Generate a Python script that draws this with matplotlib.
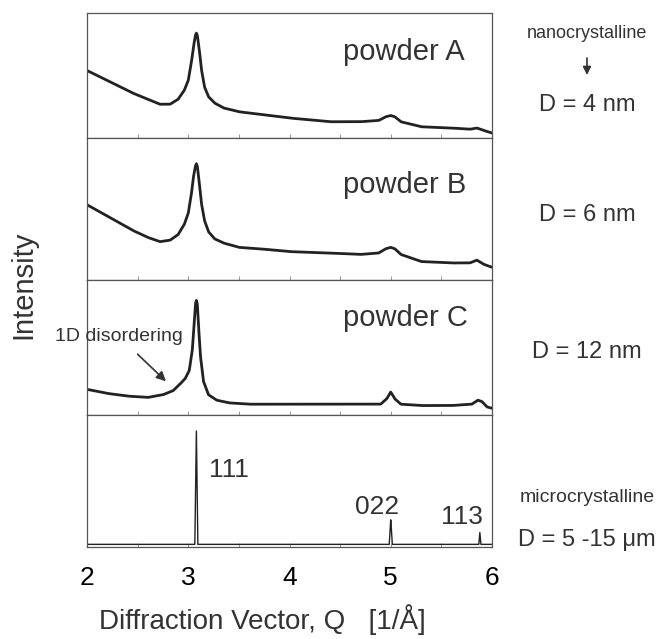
import numpy as np
import matplotlib.pyplot as plt
from matplotlib.ticker import MultipleLocator

plt.rcParams['font.family'] = ['Liberation Sans', 'DejaVu Sans']

# key points (Q, relative intensity in panel)
qA = [2.0, 2.15, 2.3, 2.45, 2.6, 2.72, 2.82, 2.9, 2.96, 3.0, 3.03, 3.05, 3.07, 3.08, 3.09, 3.11, 3.13, 3.16, 3.2, 3.26, 3.35, 3.5, 3.7, 4.0, 4.4, 4.7, 4.88, 4.95, 5.0, 5.04, 5.1, 5.3, 5.6, 5.78, 5.85, 5.92, 6.0]
iA = [0.54, 0.48, 0.42, 0.36, 0.31, 0.27, 0.27, 0.31, 0.38, 0.46, 0.6, 0.72, 0.82, 0.84, 0.82, 0.7, 0.55, 0.41, 0.33, 0.28, 0.24, 0.21, 0.19, 0.16, 0.13, 0.13, 0.14, 0.17, 0.18, 0.17, 0.13, 0.09, 0.08, 0.07, 0.08, 0.06, 0.04]
qB = qA
iB = [0.53, 0.47, 0.41, 0.35, 0.3, 0.27, 0.28, 0.32, 0.39, 0.47, 0.6, 0.72, 0.8, 0.82, 0.8, 0.68, 0.54, 0.42, 0.34, 0.29, 0.26, 0.23, 0.22, 0.2, 0.19, 0.18, 0.19, 0.22, 0.23, 0.22, 0.18, 0.13, 0.12, 0.12, 0.14, 0.11, 0.09]
qC = [2.0, 2.2, 2.4, 2.6, 2.75, 2.85, 2.92, 2.97, 3.01, 3.04, 3.06, 3.07, 3.08, 3.09, 3.1, 3.12, 3.15, 3.2, 3.28, 3.4, 3.6, 4.0, 4.5, 4.9, 4.96, 5.0, 5.04, 5.1, 5.3, 5.6, 5.8, 5.86, 5.9, 5.95, 6.0]
iC = [0.19, 0.16, 0.14, 0.13, 0.15, 0.18, 0.23, 0.27, 0.33, 0.48, 0.7, 0.82, 0.85, 0.82, 0.68, 0.44, 0.25, 0.15, 0.11, 0.09, 0.08, 0.08, 0.08, 0.08, 0.12, 0.17, 0.12, 0.08, 0.07, 0.07, 0.08, 0.11, 0.1, 0.06, 0.05]
qD = [2.0, 3.065, 3.08, 3.095, 4.985, 5.0, 5.015, 5.87, 5.88, 5.89, 6.0]
iD = [0.02, 0.02, 0.9, 0.02, 0.02, 0.21, 0.02, 0.02, 0.11, 0.02, 0.02]

names = ['powder A', 'powder B', 'powder C', '']
name_y = [0.69, 0.67, 0.72, 0]
sizes = ['D = 4 nm', 'D = 6 nm', 'D = 12 nm', 'D = 5 -15 \u03bcm']
size_y = [105, 215, 352, 540]
curves = [(qA, iA), (qB, iB), (qC, iC), (qD, iD)]

fig = plt.figure(figsize=(6.61, 6.39), dpi=100)
H = 639.0
edges = [13, 138, 280, 415, 547]
L, R = 87, 492
axes = []
for k in range(4):
    top, bot = edges[k], edges[k + 1]
    ax = fig.add_axes([L / 661, 1 - bot / H, (R - L) / 661, (bot - top) / H])
    q, i = curves[k]
    x = np.linspace(2, 6, 3000)
    ax.plot(x, np.interp(x, q, i), color='#222222', lw=2.0 if k < 3 else 1.0)
    ax.set_xlim(2, 6)
    ax.set_ylim(0, 1)
    ax.set_yticks([])
    ax.xaxis.set_major_locator(MultipleLocator(1))
    ax.xaxis.set_minor_locator(MultipleLocator(0.5))
    ax.tick_params(axis='x', which='both', direction='in', length=3, width=0.6, color='#888888')
    if k < 3:
        ax.set_xticklabels([])
    else:
        ax.tick_params(axis='x', which='major', labelsize=19, pad=14)
    if names[k]:
        ax.text(4.53, name_y[k], names[k], fontsize=21, color='#333333', ha='left', va='center')
    for s in ax.spines.values():
        s.set_linewidth(0.9)
        s.set_color('#555555')
    axes.append(ax)
    fig.text(587 / 661, 1 - size_y[k] / H, sizes[k], fontsize=17, color='#333333', ha='center', va='center')

fig.text(587 / 661, 1 - 33 / H, 'nanocrystalline', fontsize=13, color='#333333', ha='center', va='center')
axes[0].annotate('', xy=(587 / 661, 1 - 75 / H), xytext=(587 / 661, 1 - 58 / H),
                 xycoords='figure fraction', textcoords='figure fraction', annotation_clip=False,
                 arrowprops=dict(arrowstyle='-|>', color='#333333', lw=1.2, shrinkA=0, shrinkB=0,
                                 mutation_scale=12))
fig.text(587 / 661, 1 - 497 / H, 'microcrystalline', fontsize=14, color='#333333', ha='center', va='center')

axes[2].text(2.32, 0.58, '1D disordering', fontsize=14, color='#333333', ha='center', va='center')
axes[2].annotate('', xy=(2.78, 0.25), xytext=(2.5, 0.45),
                 arrowprops=dict(arrowstyle='-|>', color='#333333', lw=1.2, shrinkA=0, shrinkB=0,
                                 mutation_scale=14))
axes[3].text(3.2, 0.58, '111', fontsize=19, color='#333333', va='center')
axes[3].text(4.65, 0.3, '022', fontsize=19, color='#333333', va='center')
axes[3].text(5.5, 0.23, '113', fontsize=19, color='#333333', va='center')

fig.text(23 / 661, 1 - 285 / H, 'Intensity', fontsize=21, color='#333333', rotation=90, ha='center', va='center')
fig.text(262 / 661, 1 - 620 / H, 'Diffraction Vector, Q   [1/\u00c5]', fontsize=20, color='#333333',
         ha='center', va='center')

fig.savefig('out.png', dpi=100)
